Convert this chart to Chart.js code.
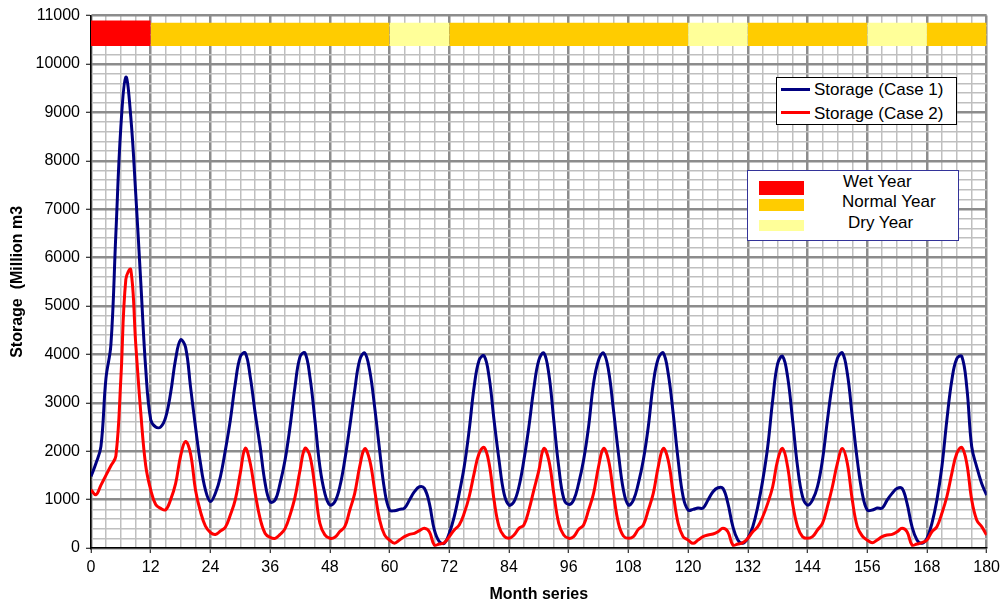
<!DOCTYPE html>
<html>
<head>
<meta charset="utf-8">
<script src="https://cdn.jsdelivr.net/npm/chart.js@4/dist/chart.umd.min.js"></script>
<style>
  body { margin: 0; background: #fff; }
  #wrap { position: relative; width: 1005px; height: 607px; font-family: "Liberation Sans", Arial, sans-serif; }
  .box { position: absolute; background: #fff; box-sizing: border-box; }
  .txt { position: absolute; font-size: 17px; line-height: 19px; color: #000; white-space: nowrap; }
  .ln { position: absolute; height: 3px; }
  .sw { position: absolute; }
</style>
</head>
<body>
<div id="wrap">
  <canvas id="storageChart" width="1005" height="607"></canvas>

  <div class="box" style="left:776px; top:77px; width:181px; height:48px; border:1px solid #000;">
    <div class="ln" style="left:4px; top:10px; width:29px; background:#000080;"></div>
    <div class="txt" style="left:37px; top:2px;">Storage (Case 1)</div>
    <div class="ln" style="left:4px; top:33px; width:29px; background:#ff0000;"></div>
    <div class="txt" style="left:37px; top:26px;">Storage (Case 2)</div>
  </div>

  <div class="box" style="left:747px; top:170px; width:212px; height:71px; border:1px solid #333399;">
    <div class="sw" style="left:11px; top:10px; width:45px; height:14px; background:#ff0000;"></div>
    <div class="sw" style="left:11px; top:28px; width:45px; height:12px; background:#ffcc00;"></div>
    <div class="sw" style="left:11px; top:49px; width:45px; height:11px; background:#ffff99;"></div>
    <div class="txt" style="left:95px; top:1px;">Wet Year</div>
    <div class="txt" style="left:94px; top:21px;">Normal Year</div>
    <div class="txt" style="left:100px; top:42px;">Dry Year</div>
  </div>
</div>

<script>
// ---- data (monthly storage, million m3) ----
const caseOne = [
  1480, 1750, 2100, 3500, 4200, 6500, 8700, 9730, 8900, 7300, 5500, 3700,
  2650, 2500, 2500, 2700, 3200, 3900, 4300, 4150, 3330, 2500, 1750, 1200,
  960, 1130, 1470, 2020, 2640, 3400, 3950, 4030, 3540, 2780, 2090, 1335,
  956, 990, 1335, 1816, 2505, 3330, 3950, 4030, 3536, 2642, 1678, 1129,
  890, 956, 1266, 1816, 2504, 3261, 3880, 4030, 3674, 2917, 2023, 1197,
  784, 770, 798, 825, 991, 1163, 1266, 1232, 922, 372, 131, 97,
  303, 646, 1129, 1678, 2435, 3330, 3880, 3970, 3536, 2642, 1816, 1129,
  887, 956, 1266, 1816, 2504, 3300, 3880, 4030, 3605, 2642, 1678, 1025,
  901, 991, 1335, 1816, 2504, 3399, 3880, 4030, 3674, 2848, 1955, 1197,
  887, 991, 1335, 1816, 2504, 3399, 3914, 4030, 3605, 2780, 1816, 1059,
  784, 798, 825, 825, 991, 1163, 1245, 1232, 922, 440, 165, 97,
  200, 440, 853, 1400, 2091, 3055, 3812, 3960, 3536, 2642, 1678, 1059,
  887, 991, 1266, 1816, 2642, 3399, 3914, 4030, 3605, 2711, 1816, 1129,
  784, 784, 825, 825, 991, 1129, 1232, 1232, 922, 440, 165, 97,
  200, 510, 991, 1678, 2642, 3468, 3914, 3960, 3330, 2091, 1678, 1335,
  1094
];

const caseTwo = [
  1200, 1100, 1300, 1500, 1700, 1900, 3500, 5550, 5750, 4200, 2800, 1700,
  1200, 900, 820, 790, 1000, 1330, 1900, 2200, 1950, 1200, 750, 450,
  320, 280, 350, 430, 680, 1000, 1550, 2060, 1750, 1130, 600, 300,
  220, 200, 280, 400, 680, 1050, 1600, 2060, 1900, 1250, 510, 270,
  200, 220, 340, 440, 780, 1130, 1680, 2050, 1820, 1200, 580, 270,
  165, 100, 165, 234, 282, 303, 358, 406, 336, 62, 83, 110,
  234, 372, 475, 716, 1059, 1541, 1955, 2078, 1748, 991, 440, 248,
  200, 268, 406, 475, 784, 1197, 1600, 2057, 1816, 1129, 510, 268,
  200, 234, 385, 475, 784, 1129, 1678, 2057, 1816, 1129, 510, 248,
  200, 234, 385, 475, 784, 1129, 1678, 2057, 1816, 1129, 510, 234,
  165, 97, 165, 234, 268, 289, 336, 406, 336, 62, 83, 110,
  200, 336, 440, 646, 922, 1266, 1816, 2057, 1678, 922, 440, 234,
  200, 234, 372, 510, 853, 1266, 1748, 2057, 1748, 991, 440, 248,
  165, 110, 165, 234, 268, 282, 336, 406, 336, 62, 83, 110,
  165, 336, 440, 716, 1059, 1541, 1955, 2078, 1748, 991, 578, 440,
  268
];

// year classification band along the top
const yearStart = [0, 12, 60, 72, 120, 132, 156, 168];
const yearEnd   = [12, 60, 72, 120, 132, 156, 168, 180];
const yearType  = ['Wet', 'Normal', 'Dry', 'Normal', 'Dry', 'Normal', 'Dry', 'Normal'];

const yearColors = { Wet: '#ff0000', Normal: '#ffcc00', Dry: '#ffff99' };
const bandTop = { Wet: 10900, Normal: 10850, Dry: 10850 };
const bandBottom = 10370;

const months = caseOne.map((_, i) => i);

const MAJOR = '#8c8c8c';
const MINOR = '#bfbfbf';
const FONT = '"Liberation Sans", Arial, sans-serif';

const bandSets = yearStart.map((s, i) => ({
    type: 'line',
    label: yearType[i] + ' Year',
    data: [{ x: s, y: bandTop[yearType[i]] }, { x: yearEnd[i], y: bandTop[yearType[i]] }],
    borderWidth: 0,
    borderColor: 'rgba(0,0,0,0)',
    backgroundColor: yearColors[yearType[i]],
    pointRadius: 0,
    fill: { value: bandBottom },
    tension: 0,
    order: 3
}));

new Chart(document.getElementById('storageChart'), {
    type: 'line',
    data: {
        datasets: [
            {
                label: 'Storage (Case 1)',
                data: months.map(m => ({ x: m, y: caseOne[m] })),
                borderColor: '#000080',
                borderWidth: 3,
                pointRadius: 0,
                tension: 0.4,
                fill: false,
                order: 1
            },
            {
                label: 'Storage (Case 2)',
                data: months.map(m => ({ x: m, y: caseTwo[m] })),
                borderColor: '#ff0000',
                borderWidth: 3,
                pointRadius: 0,
                tension: 0.4,
                fill: false,
                order: 0
            },
            ...bandSets
        ]
    },
    options: {
        responsive: false,
        animation: false,
        devicePixelRatio: 1,
        layout: { padding: { top: 15, right: 18, left: 0, bottom: 0 } },
        plugins: {
            legend: { display: false },
            tooltip: { enabled: false }
        },
        scales: {
            x: {
                type: 'linear',
                min: 0,
                max: 180,
                afterFit: (scale) => { scale.height = 59; },
                border: { display: true, color: '#000', width: 1.5 },
                grid: {
                    color: (ctx) => ctx.tick && ctx.tick.value % 12 === 0 ? MAJOR : MINOR,
                    lineWidth: (ctx) => ctx.tick && ctx.tick.value % 12 === 0 ? 2.5 : 1.5,
                    tickColor: (ctx) => ctx.tick && ctx.tick.value % 12 === 0 ? '#000' : 'rgba(0,0,0,0)',
                    tickLength: 5,
                    tickWidth: 1
                },
                ticks: {
                    stepSize: 3,
                    autoSkip: false,
                    maxTicksLimit: 100,
                    maxRotation: 0,
                    padding: 5,
                    color: '#000',
                    font: { family: FONT, size: 16 },
                    callback: (v) => v % 12 === 0 ? String(v) : ''
                },
                title: {
                    display: true,
                    text: 'Month series',
                    color: '#000',
                    font: { family: FONT, size: 16, weight: 'bold' },
                    padding: { top: 0, bottom: 3 }
                }
            },
            y: {
                min: 0,
                max: 11000,
                afterFit: (scale) => { scale.width = 91; },
                border: { display: true, color: '#000', width: 1.5 },
                grid: {
                    color: (ctx) => ctx.tick && ctx.tick.value % 1000 === 0 ? MAJOR : MINOR,
                    lineWidth: (ctx) => ctx.tick && ctx.tick.value % 1000 === 0 ? 2.5 : 1.5,
                    tickColor: (ctx) => ctx.tick && ctx.tick.value % 1000 === 0 ? '#000' : 'rgba(0,0,0,0)',
                    tickLength: 5,
                    tickWidth: 1
                },
                ticks: {
                    stepSize: 200,
                    autoSkip: false,
                    maxTicksLimit: 100,
                    padding: 6,
                    color: '#000',
                    font: { family: FONT, size: 16 },
                    callback: (v) => v % 1000 === 0 ? String(v) : ''
                },
                title: {
                    display: true,
                    text: 'Storage  (Million m3',
                    color: '#000',
                    font: { family: FONT, size: 16, weight: 'bold' },
                    padding: { top: 8, bottom: 0 }
                }
            }
        }
    }
});
</script>
</body>
</html>
